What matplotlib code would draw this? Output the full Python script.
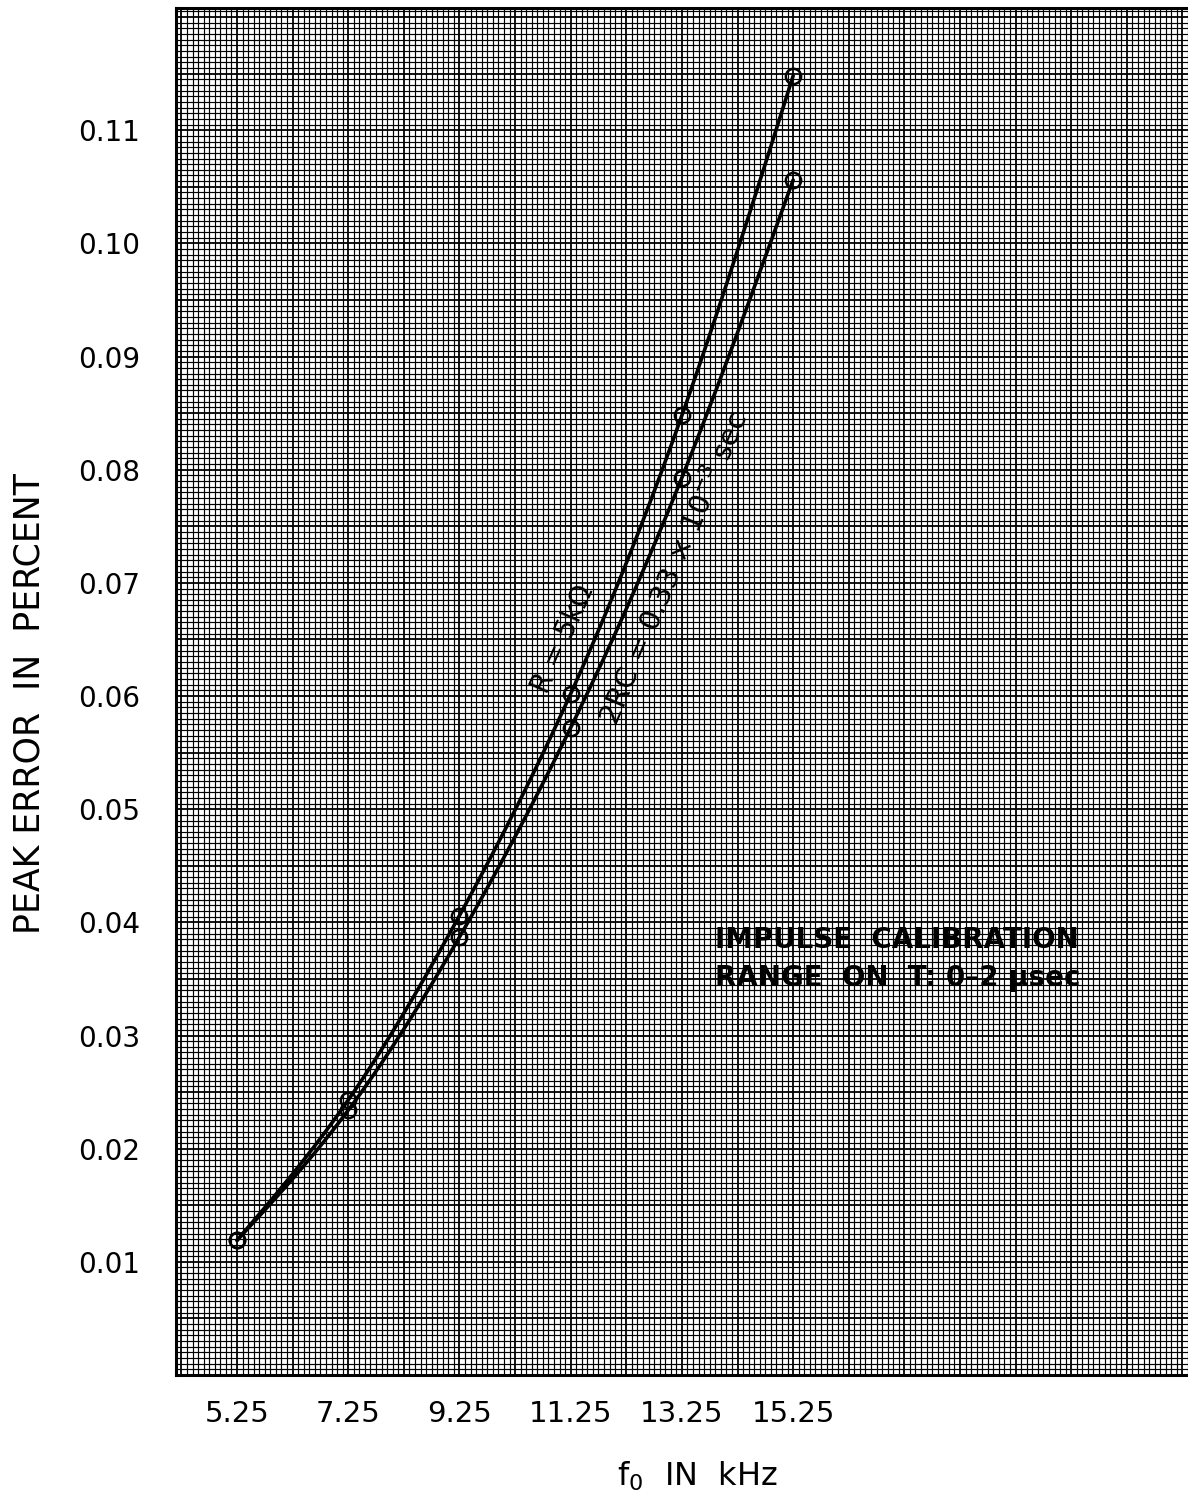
import numpy as np
import matplotlib
matplotlib.use("Agg")
import matplotlib.pyplot as plt

# ---- data ----
freq_khz = [5.25, 7.25, 9.25, 11.25, 13.25, 15.25]
err_r5k = [0.0119, 0.0243, 0.0406, 0.0602, 0.0848, 0.1148]
err_2rc = [0.0119, 0.0234, 0.0387, 0.0572, 0.0793, 0.1056]
x_ticks = [5.25, 7.25, 9.25, 11.25, 13.25, 15.25]
x_ticklabels = ["5.25", "7.25", "9.25", "11.25", "13.25", "15.25"]
y_ticks = [0.01, 0.02, 0.03, 0.04, 0.05, 0.06, 0.07, 0.08, 0.09, 0.10, 0.11]
y_ticklabels = ["0.01", "0.02", "0.03", "0.04", "0.05", "0.06", "0.07",
                "0.08", "0.09", "0.10", "0.11"]


def natural_spline(x, y, n=300):
    x = np.asarray(x, float)
    y = np.asarray(y, float)
    k = len(x)
    h = np.diff(x)
    A = np.zeros((k, k))
    b = np.zeros(k)
    A[0, 0] = A[-1, -1] = 1.0
    for i in range(1, k - 1):
        A[i, i - 1] = h[i - 1]
        A[i, i] = 2 * (h[i - 1] + h[i])
        A[i, i + 1] = h[i]
        b[i] = 6 * ((y[i + 1] - y[i]) / h[i] - (y[i] - y[i - 1]) / h[i - 1])
    M = np.linalg.solve(A, b)
    xs = np.linspace(x[0], x[-1], n)
    idx = np.clip(np.searchsorted(x, xs) - 1, 0, k - 2)
    x0, x1 = x[idx], x[idx + 1]
    hh = x1 - x0
    t0 = x1 - xs
    t1 = xs - x0
    ys = (M[idx] * t0 ** 3 / (6 * hh) + M[idx + 1] * t1 ** 3 / (6 * hh)
          + (y[idx] / hh - M[idx] * hh / 6) * t0
          + (y[idx + 1] / hh - M[idx + 1] * hh / 6) * t1)
    return xs, ys


W, H = 1188, 1503
fig = plt.figure(figsize=(W / 100, H / 100), dpi=100)
ax = fig.add_axes([176 / W, (H - 1375) / H, (W - 176) / W, (1375 - 8) / H])

xmin, xmax = 4.153, 22.35
ymin, ymax = 0.0, 0.1208
ax.set_xlim(xmin, xmax)
ax.set_ylim(ymin, ymax)

# ---- graph-paper grid ----
xt = ax.get_xaxis_transform()
yt = ax.get_yaxis_transform()
gx = np.round(np.arange(4.25 - 0.1 * 1, xmax, 0.1), 4)
for v in gx:
    r = (v - 0.25) % 1.0
    major = r < 1e-6 or abs(r - 1.0) < 1e-6
    ax.plot([v, v], [0, 1], transform=xt, color="black",
            lw=1.3 if major else 0.85, zorder=1, solid_capstyle="butt")
gy = np.round(np.arange(0.0, ymax, 0.0005), 6)
for i, v in enumerate(gy):
    major = (i % 10 == 0)
    ax.plot([0, 1], [v, v], transform=yt, color="black",
            lw=1.3 if major else 0.85, zorder=1, solid_capstyle="butt")

# ---- curves ----
for ys in (err_r5k, err_2rc):
    sx, sy = natural_spline(freq_khz, ys)
    ax.plot(sx, sy, color="black", lw=2.6, zorder=3, solid_capstyle="round")
    ax.plot(freq_khz, ys, linestyle="none", marker="o", ms=11, mfc="none",
            mec="black", mew=1.8, zorder=4)

# ---- annotations ----
ax.text(11.12, 0.0650, "R = 5kΩ", rotation=66, fontsize=20,
        ha="center", va="center", zorder=5)
ax.text(13.12, 0.0712, r"2RC = 0.33 $\times$ 10$^{-3}$ sec", rotation=67,
        fontsize=21, ha="center", va="center", zorder=5)
ax.text(13.85, 0.0368, "IMPULSE  CALIBRATION\nRANGE  ON  T: 0–2 μsec",
        fontsize=20, fontweight="bold", ha="left", va="center",
        linespacing=1.45, zorder=5)

# ---- axes styling ----
for s in ("left", "top", "bottom"):
    ax.spines[s].set_linewidth(2.2)
    ax.spines[s].set_color("black")
ax.spines["right"].set_visible(False)

ax.set_xticks(x_ticks)
ax.set_xticklabels(x_ticklabels, fontsize=21)
ax.set_yticks(y_ticks)
ax.set_yticklabels(y_ticklabels, fontsize=20)
ax.tick_params(axis="x", length=0, pad=18)
ax.tick_params(axis="y", length=0, pad=26)

fig.text(30 / W, 1 - 704 / H, "PEAK ERROR  IN  PERCENT", rotation=90,
         fontsize=25, ha="center", va="center")
fig.text(697 / W, 1 - 1476 / H, r"f$_\mathregular{0}$  IN  kHz",
         fontsize=23, ha="center", va="center")

fig.savefig("out.png", dpi=100, facecolor="white")
